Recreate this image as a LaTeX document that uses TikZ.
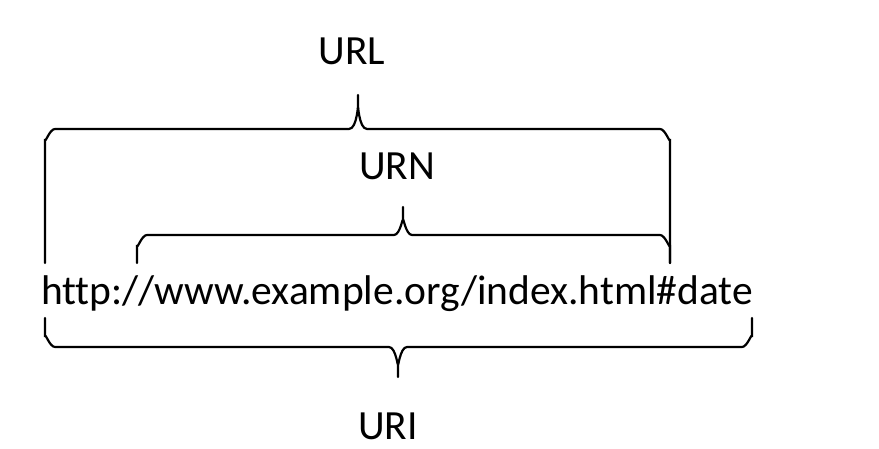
\documentclass[tikz,border=0pt]{standalone}
\usepackage{fontspec}
\setmainfont[Ligatures=NoCommon]{Carlito}
\usetikzlibrary{calc}

\begin{document}
\begin{tikzpicture}[x=1pt, y=-1pt,
    lbl/.style={font=\fontsize{41.5}{48}\selectfont, inner sep=0pt, anchor=base},
    brace/.style={line width=2.2pt, black, line cap=round},
  ]
    \useasboundingbox (0,0) rectangle (879,449);

    % address and labels
    \node[lbl] (addr) at (397,305) {http://www.example.org/index.html\#date};
    \node[lbl] (url)  at (352,65)  {URL};
    \node[lbl] (urn)  at (397,180) {URN};
    \node[lbl] (uri)  at (388,439) {URI};

    % brace ends
    \coordinate (urlA) at (45,263);
    \coordinate (urlB) at (670,263);
    \coordinate (urlT) at (358,95);
    \coordinate (urnA) at (137,263);
    \coordinate (urnB) at (670,263);
    \coordinate (urnT) at (403,207);
    \coordinate (uriA) at (45,318);
    \coordinate (uriB) at (752,318);
    \coordinate (uriT) at (398,377);

    % URL brace (top)
    \draw[brace] (urlA) -- ($(urlA|-0,139)$) to[out=-90,in=180] ($(urlA|-0,129)+(10,0)$)
      -- ($(urlT|-0,129)+(-9,0)$) to[out=0,in=90] ($(urlT)+(0,14)$) -- (urlT);
    \draw[brace] (urlB) -- ($(urlB|-0,139)$) to[out=-90,in=0] ($(urlB|-0,129)+(-10,0)$)
      -- ($(urlT|-0,129)+(9,0)$) to[out=180,in=90] ($(urlT)+(0,14)$);

    % URN brace (middle)
    \draw[brace] (urnA) -- ($(urnA|-0,245)$) to[out=-90,in=180] ($(urnA|-0,235)+(10,0)$)
      -- ($(urnT|-0,235)+(-9,0)$) to[out=0,in=90] ($(urnT)+(0,14)$) -- (urnT);
    \draw[brace] (urnB) -- ($(urnB|-0,245)$) to[out=-90,in=0] ($(urnB|-0,235)+(-10,0)$)
      -- ($(urnT|-0,235)+(9,0)$) to[out=180,in=90] ($(urnT)+(0,14)$);

    % URI brace (bottom)
    \draw[brace] (uriA) -- ($(uriA|-0,337)$) to[out=90,in=180] ($(uriA|-0,347)+(10,0)$)
      -- ($(uriT|-0,347)+(-9,0)$) to[out=0,in=-90] ($(uriT)+(0,-14)$) -- (uriT);
    \draw[brace] (uriB) -- ($(uriB|-0,337)$) to[out=90,in=0] ($(uriB|-0,347)+(-10,0)$)
      -- ($(uriT|-0,347)+(9,0)$) to[out=180,in=-90] ($(uriT)+(0,-14)$);
\end{tikzpicture}
\end{document}
